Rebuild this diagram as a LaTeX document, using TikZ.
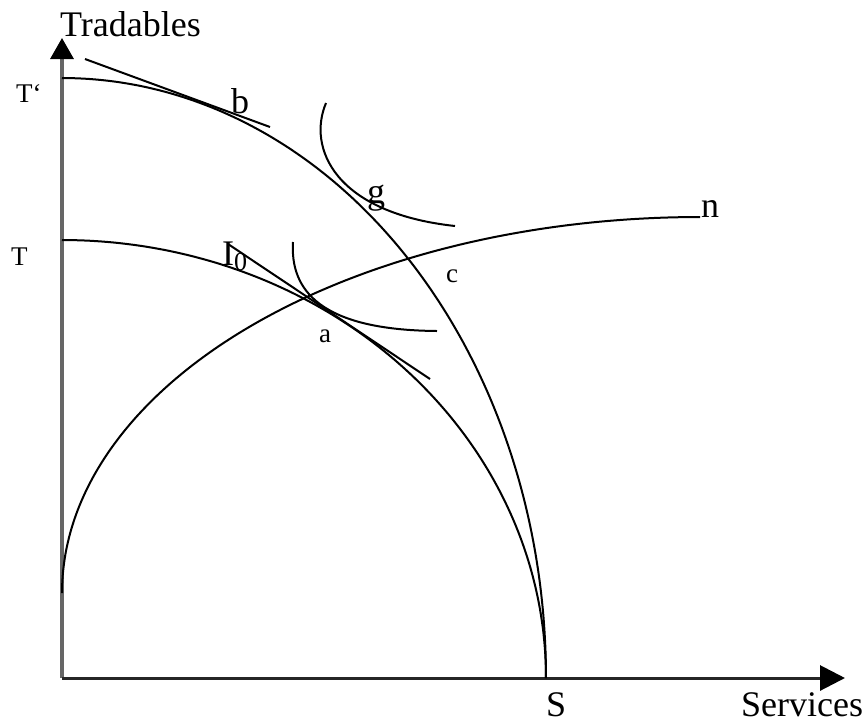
\documentclass[tikz,border=0pt]{standalone}
\usepackage{fontspec}
\setmainfont{Liberation Serif}
\usetikzlibrary{arrows.meta}
\tikzset{
  axisv/.style={line width=3.4pt, black!60, -{Triangle[length=21pt,width=23pt,black]}},
  axish/.style={line width=3pt, black!85, -{Triangle[length=25pt,width=25pt,black]}},
  curve/.style={line width=2pt, black},
  biglbl/.style={font=\fontsize{36}{40}\selectfont, inner sep=0pt},
  smalllbl/.style={font=\fontsize{27}{30}\selectfont, inner sep=0pt},
}
\begin{document}
\begin{tikzpicture}[x=1pt,y=-1pt]
\useasboundingbox (0,0) rectangle (867,724);
% axes
\coordinate (O) at (62,678);
\coordinate (ytip) at (62,38);
\coordinate (xtip) at (845,678);
\draw[axisv] (O) -- (ytip);
\draw[axish] (O) -- (xtip);
% outer PPF T'-S
\draw[curve] plot[domain=90:0, samples=120, smooth] ({62+484*cos(\x)}, {678-600*sin(\x)});
% inner PPF T-S
\draw[curve] plot[domain=90:0, samples=120, smooth] ({62+484*cos(\x)}, {678-438*sin(\x)});
% curve to n
\draw[curve] plot[domain=180:90, samples=120, smooth] ({700+638*cos(\x)}, {593-376*sin(\x)});
% tangent at b
\coordinate (tb1) at (85,59);
\coordinate (tb2) at (270,127);
\draw[curve] (tb1) -- (tb2);
% tangent at a
\coordinate (ta1) at (228,244);
\coordinate (ta2) at (430,379);
\draw[curve] (ta1) -- (ta2);
% indifference curve at g
\coordinate (ig0) at (326,103);
\coordinate (ig3) at (455,226);
\draw[curve] (ig0) .. controls (307,148) and (335,213) .. (ig3);
% indifference curve at a
\coordinate (ia0) at (293,242);
\coordinate (ia3) at (437,331);
\draw[curve] (ia0) .. controls (290,290) and (320,330) .. (ia3);
% labels
\node[biglbl, anchor=base west] (trad) at (60,36) {Tradables};
\node[biglbl, anchor=base west] (serv) at (741,716) {Services};
\node[biglbl, anchor=base west] (S) at (546,716) {S};
\node[smalllbl, anchor=base west] (Tp) at (16,102) {T‘};
\node[smalllbl, anchor=base west] (T) at (11,265) {T};
\node[biglbl, anchor=base west] (b) at (231,113) {b};
\node[biglbl, anchor=base west] (g) at (367,203) {g};
\node[biglbl, anchor=base west] (n) at (701,217) {n};
\node[smalllbl, anchor=base west] (c) at (446,282) {c};
\node[smalllbl, anchor=base west] (a) at (319,342) {a};
\node[biglbl, anchor=base west] (I0) at (222,265) {I\raisebox{-0.15em}{\fontsize{26}{30}\selectfont 0}};
\end{tikzpicture}
\end{document}
